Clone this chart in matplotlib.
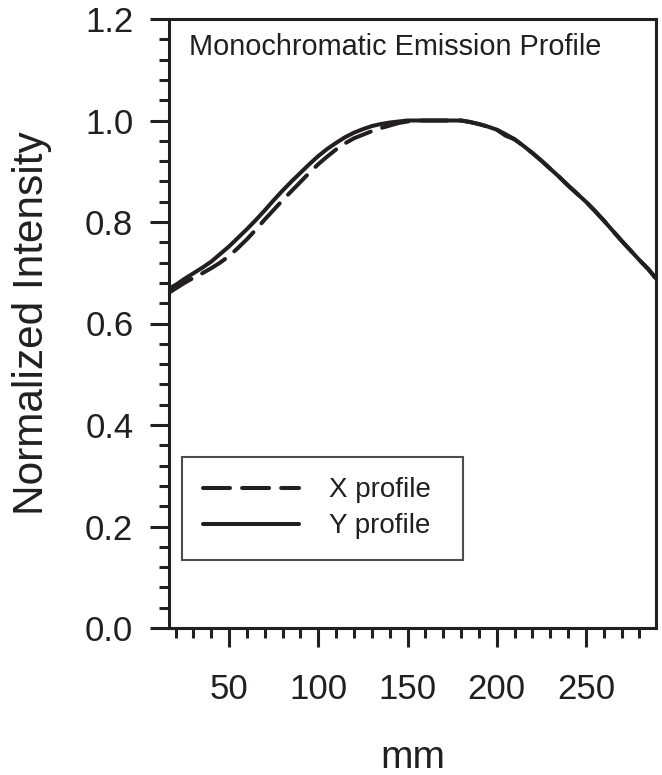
import matplotlib
matplotlib.use("Agg")
import matplotlib.pyplot as plt
from matplotlib.ticker import MultipleLocator

plt.rcParams['font.family'] = ['Liberation Sans', 'DejaVu Sans']

INK = '#231f20'

# Data
x_mm = [16, 20, 25, 30, 35, 40, 45, 50, 55, 60, 65, 70, 75, 80, 85, 90, 95, 100,
        105, 110, 115, 120, 125, 130, 135, 140, 145, 150, 155, 160, 165, 170, 175,
        180, 185, 190, 195, 200, 205, 210, 215, 220, 225, 230, 235, 240, 245, 250,
        255, 260, 265, 270, 275, 280, 285, 289]
y_profile = [0.668, 0.676, 0.688, 0.699, 0.710, 0.722, 0.737, 0.752, 0.769, 0.786,
             0.804, 0.823, 0.843, 0.862, 0.880, 0.897, 0.914, 0.930, 0.944, 0.956,
             0.967, 0.976, 0.983, 0.989, 0.993, 0.996, 0.998, 1.000, 1.000, 1.000,
             1.000, 1.000, 1.000, 1.000, 0.997, 0.993, 0.988, 0.982, 0.973, 0.963,
             0.950, 0.936, 0.921, 0.905, 0.889, 0.872, 0.856, 0.840, 0.822, 0.803,
             0.783, 0.763, 0.744, 0.725, 0.707, 0.690]
x_profile = [0.660, 0.669, 0.680, 0.690, 0.699, 0.709, 0.720, 0.733, 0.749, 0.766,
             0.785, 0.805, 0.824, 0.843, 0.861, 0.879, 0.897, 0.914, 0.929, 0.943,
             0.955, 0.965, 0.972, 0.979, 0.985, 0.990, 0.995, 0.998, 1.000, 1.000,
             1.000, 1.000, 1.000, 1.000, 0.997, 0.993, 0.988, 0.982, 0.970, 0.963,
             0.950, 0.936, 0.921, 0.905, 0.889, 0.872, 0.856, 0.840, 0.822, 0.803,
             0.783, 0.763, 0.744, 0.725, 0.707, 0.690]

x_ticks = [50, 100, 150, 200, 250]
y_ticks = [0.0, 0.2, 0.4, 0.6, 0.8, 1.0, 1.2]

fig = plt.figure(figsize=(6.62, 7.75), dpi=100)
ax = fig.add_axes([169/662, 1 - 628/775, (656-169)/662, (628-19)/775])

ax.plot(x_mm, x_profile, color=INK, lw=2.9, dashes=(6.7, 3.0),
        dash_capstyle='round', label='X profile')
ax.plot(x_mm, y_profile, color=INK, lw=2.9, solid_capstyle='round',
        label='Y profile')

ax.set_xlim(16.3, 289.3)
ax.set_ylim(0, 1.2)
ax.set_xticks(x_ticks)
ax.set_yticks(y_ticks)
ax.set_yticklabels([f'{v:.1f}' for v in y_ticks])
ax.xaxis.set_minor_locator(MultipleLocator(10))
ax.yaxis.set_minor_locator(MultipleLocator(0.04))

for s in ax.spines.values():
    s.set_linewidth(2.2)
    s.set_color(INK)

ax.tick_params(which='major', direction='out', length=13.7, width=2.2,
               colors=INK, labelsize=25, pad=12)
ax.tick_params(which='minor', direction='out', length=7.2, width=2.2, colors=INK)
ax.tick_params(axis='x', which='major', pad=19)

ax.set_xlabel('mm', fontsize=28, color=INK, labelpad=24)
ax.set_ylabel('Normalized Intensity', fontsize=30.5, color=INK, labelpad=24)

ax.text(0.041, 0.941, 'Monochromatic Emission Profile', transform=ax.transAxes,
        fontsize=20.8, color=INK, ha='left', va='baseline')

leg = ax.legend(loc='lower left', bbox_to_anchor=(0.027, 0.112, 0.577, 0.169),
                mode='expand', fontsize=20, handlelength=3.45, handletextpad=1.1,
                borderpad=0.74, labelspacing=0.36, borderaxespad=0,
                fancybox=False, frameon=True)
leg.get_frame().set_edgecolor(INK)
leg.get_frame().set_linewidth(1.5)
for t in leg.get_texts():
    t.set_color(INK)

fig.savefig('out.png', dpi=100)
